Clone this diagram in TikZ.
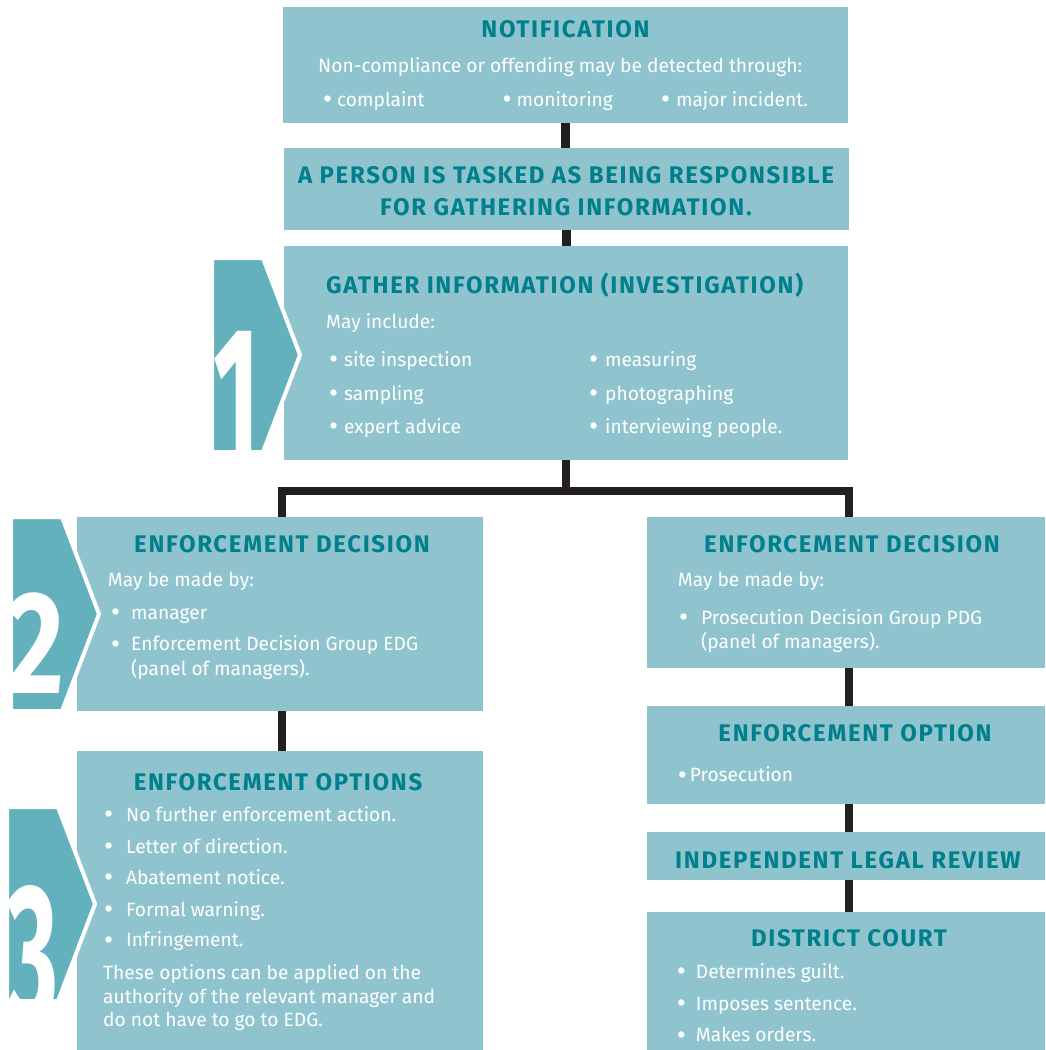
\documentclass[tikz,border=0pt]{standalone}
\usepackage{fontspec}
\setmainfont{Fira Sans}
\newfontfamily\headfont{Fira Sans}[LetterSpace=7]
\usepackage{graphicx}
\usepackage{xcolor}
\usepackage{tikz}

\definecolor{boxfill}{HTML}{8FC4CF}
\definecolor{headteal}{HTML}{00808C}
\definecolor{chevfill}{HTML}{63B1BD}
\definecolor{linkdark}{HTML}{231F20}

\newcommand\bul[1]{\makebox[#1pt][l]{\raisebox{-0.12em}{\scalebox{1.45}{\textbullet}}}}

\tikzset{
  box/.style={fill=boxfill, draw=none, inner sep=0pt},
  head/.style={font=\headfont\fontsize{24}{28}\selectfont\bfseries, text=headteal, inner sep=0pt, anchor=base},
  body/.style={font=\fontsize{19.2}{24}\selectfont, text=white, inner sep=0pt, anchor=base west},
  link/.style={draw=linkdark, line width=8.5pt},
  stepnum/.style={font=\fontsize{200}{200}\selectfont\bfseries, text=white, inner sep=0pt, anchor=base},
}

\begin{document}
\begin{tikzpicture}[x=1pt, y=-1pt]
    \useasboundingbox (0,0) rectangle (1045,1050);

    % boxes
    \node[box, minimum width=565pt, minimum height=116pt] (notif) at (565.5,65) {};
    \node[box, minimum width=565pt, minimum height=82pt] (person) at (566.5,189) {};
    \node[box, minimum width=564pt, minimum height=214pt] (gather) at (566,353) {};
    \node[box, minimum width=406pt, minimum height=194pt] (decL) at (280,614) {};
    \node[box, minimum width=406pt, minimum height=299pt] (optsL) at (280,900.5) {};
    \node[box, minimum width=398pt, minimum height=151pt] (decR) at (846,592.5) {};
    \node[box, minimum width=398pt, minimum height=98pt] (optR) at (846,755) {};
    \node[box, minimum width=398pt, minimum height=48pt] (review) at (846,856) {};
    \node[box, minimum width=398pt, minimum height=138pt] (court) at (846,981) {};

    % connectors
    \coordinate (fork) at ([yshift=-31pt]gather.south);
    \draw[link] (notif.south) -- (notif.south |- person.north);
    \draw[link] (person.south) -- (person.south |- gather.north);
    \draw[link] (gather.south) -- (fork);
    \draw[link] ([xshift=2pt]decL.north) |- (fork) -| ([xshift=3pt]decR.north);
    \draw[link] ([xshift=2pt]decL.south) -- ([xshift=2pt]optsL.north);
    \draw[link] ([xshift=3pt]decR.south) -- ([xshift=3pt]optR.north);
    \draw[link] ([xshift=3pt]optR.south) -- ([xshift=3pt]review.north);
    \draw[link] ([xshift=3pt]review.south) -- ([xshift=3pt]court.north);

    % step markers
    \foreach \xl/\yt/\d/\dx/\dy/\sx/\sy in {212/258/1/237/466/0.5/1, 11/517/2/36/693/0.55/0.73, 7/807/3/32/1023/0.5/1} {
        \fill[chevfill] (\xl,\yt) -- ++(51,0) -- ++(37,97) -- ++(-37,97) -- ++(-51,0) -- cycle;
        \begin{scope}
            \clip (\xl,\yt) -- ++(51,0) -- ++(37,97) -- ++(-37,97) -- ++(-51,0) -- cycle;
            \node[stepnum, xscale=\sx, yscale=\sy] (num\d) at (\dx,\dy) {\d};
        \end{scope}
        \draw[white, line width=4pt] (\xl,\yt) -- ++(51,0) -- ++(37,97) -- ++(-37,97) -- ++(-51,0) -- cycle;
    }

    % notification
    \node[head] (notifT) at (565.5,37.3) {NOTIFICATION};
    \node[body] (notifL) at (318,72.7) {Non-compliance or offending may be detected through:};
    \node[body] (notifA) at (323,106) {\bul{14}complaint};
    \node[body] (notifB) at (502.5,106) {\bul{14}monitoring};
    \node[body] (notifC) at (661,106) {\bul{15}major incident.};

    % person
    \node[head] (personA) at (566,183.3) {A PERSON IS TASKED AS BEING RESPONSIBLE};
    \node[head] (personB) at (566,215) {FOR GATHERING INFORMATION.};

    % gather information
    \node[head, anchor=base west] (gatherT) at (326,293) {GATHER INFORMATION (INVESTIGATION)};
    \node[body] (gatherL) at (326,328) {May include:};
    \node[body] (gatherA) at (329,366) {\bul{15}site inspection};
    \node[body] (gatherB) at (329,400) {\bul{15}sampling};
    \node[body] (gatherC) at (329,433) {\bul{15}expert advice};
    \node[body] (gatherD) at (589,366) {\bul{16}measuring};
    \node[body] (gatherE) at (589,400) {\bul{16}photographing};
    \node[body] (gatherF) at (589,433) {\bul{16}interviewing people.};

    % enforcement decision, left
    \node[head] (decLT) at (282,552.7) {ENFORCEMENT DECISION};
    \node[body] (decLL) at (107.7,586.7) {May be made by:};
    \node[body] (decLA) at (111,619.3) {\bul{20}manager};
    \node[body] (decLB) at (111,650.7) {\bul{20}Enforcement Decision Group EDG};
    \node[body] (decLC) at (131,675) {(panel of managers).};

    % enforcement options, left
    \node[head] (optsLT) at (278,790.7) {ENFORCEMENT OPTIONS};
    \node[body] (optsLA) at (104,821) {\bul{22}No further enforcement action.};
    \node[body] (optsLB) at (104,853.3) {\bul{22}Letter of direction.};
    \node[body] (optsLC) at (104,884) {\bul{22}Abatement notice.};
    \node[body] (optsLD) at (104,916) {\bul{22}Formal warning.};
    \node[body] (optsLE) at (104,946.7) {\bul{22}Infringement.};
    \node[body] (optsLF) at (103,979.3) {These options can be applied on the};
    \node[body] (optsLG) at (103,1003.3) {authority of the relevant manager and};
    \node[body] (optsLH) at (103,1026.7) {do not have to go to EDG.};

    % enforcement decision, right
    \node[head] (decRT) at (852,552.7) {ENFORCEMENT DECISION};
    \node[body] (decRL) at (677.7,586.7) {May be made by:};
    \node[body] (decRA) at (679,624) {\bul{22}Prosecution Decision Group PDG};
    \node[body] (decRB) at (701,648.3) {(panel of managers).};

    % prosecution path
    \node[head] (optRT) at (855,741.7) {ENFORCEMENT OPTION};
    \node[body] (optRA) at (677.7,781.7) {\bul{12}Prosecution};
    \node[head] (reviewT) at (848,868.3) {INDEPENDENT LEGAL REVIEW};
    \node[head] (courtT) at (849,946.7) {DISTRICT COURT};
    \node[body] (courtA) at (676.7,978.3) {\bul{19}Determines guilt.};
    \node[body] (courtB) at (676.7,1010) {\bul{19}Imposes sentence.};
    \node[body] (courtC) at (676.7,1041.7) {\bul{19}Makes orders.};
\end{tikzpicture}
\end{document}
